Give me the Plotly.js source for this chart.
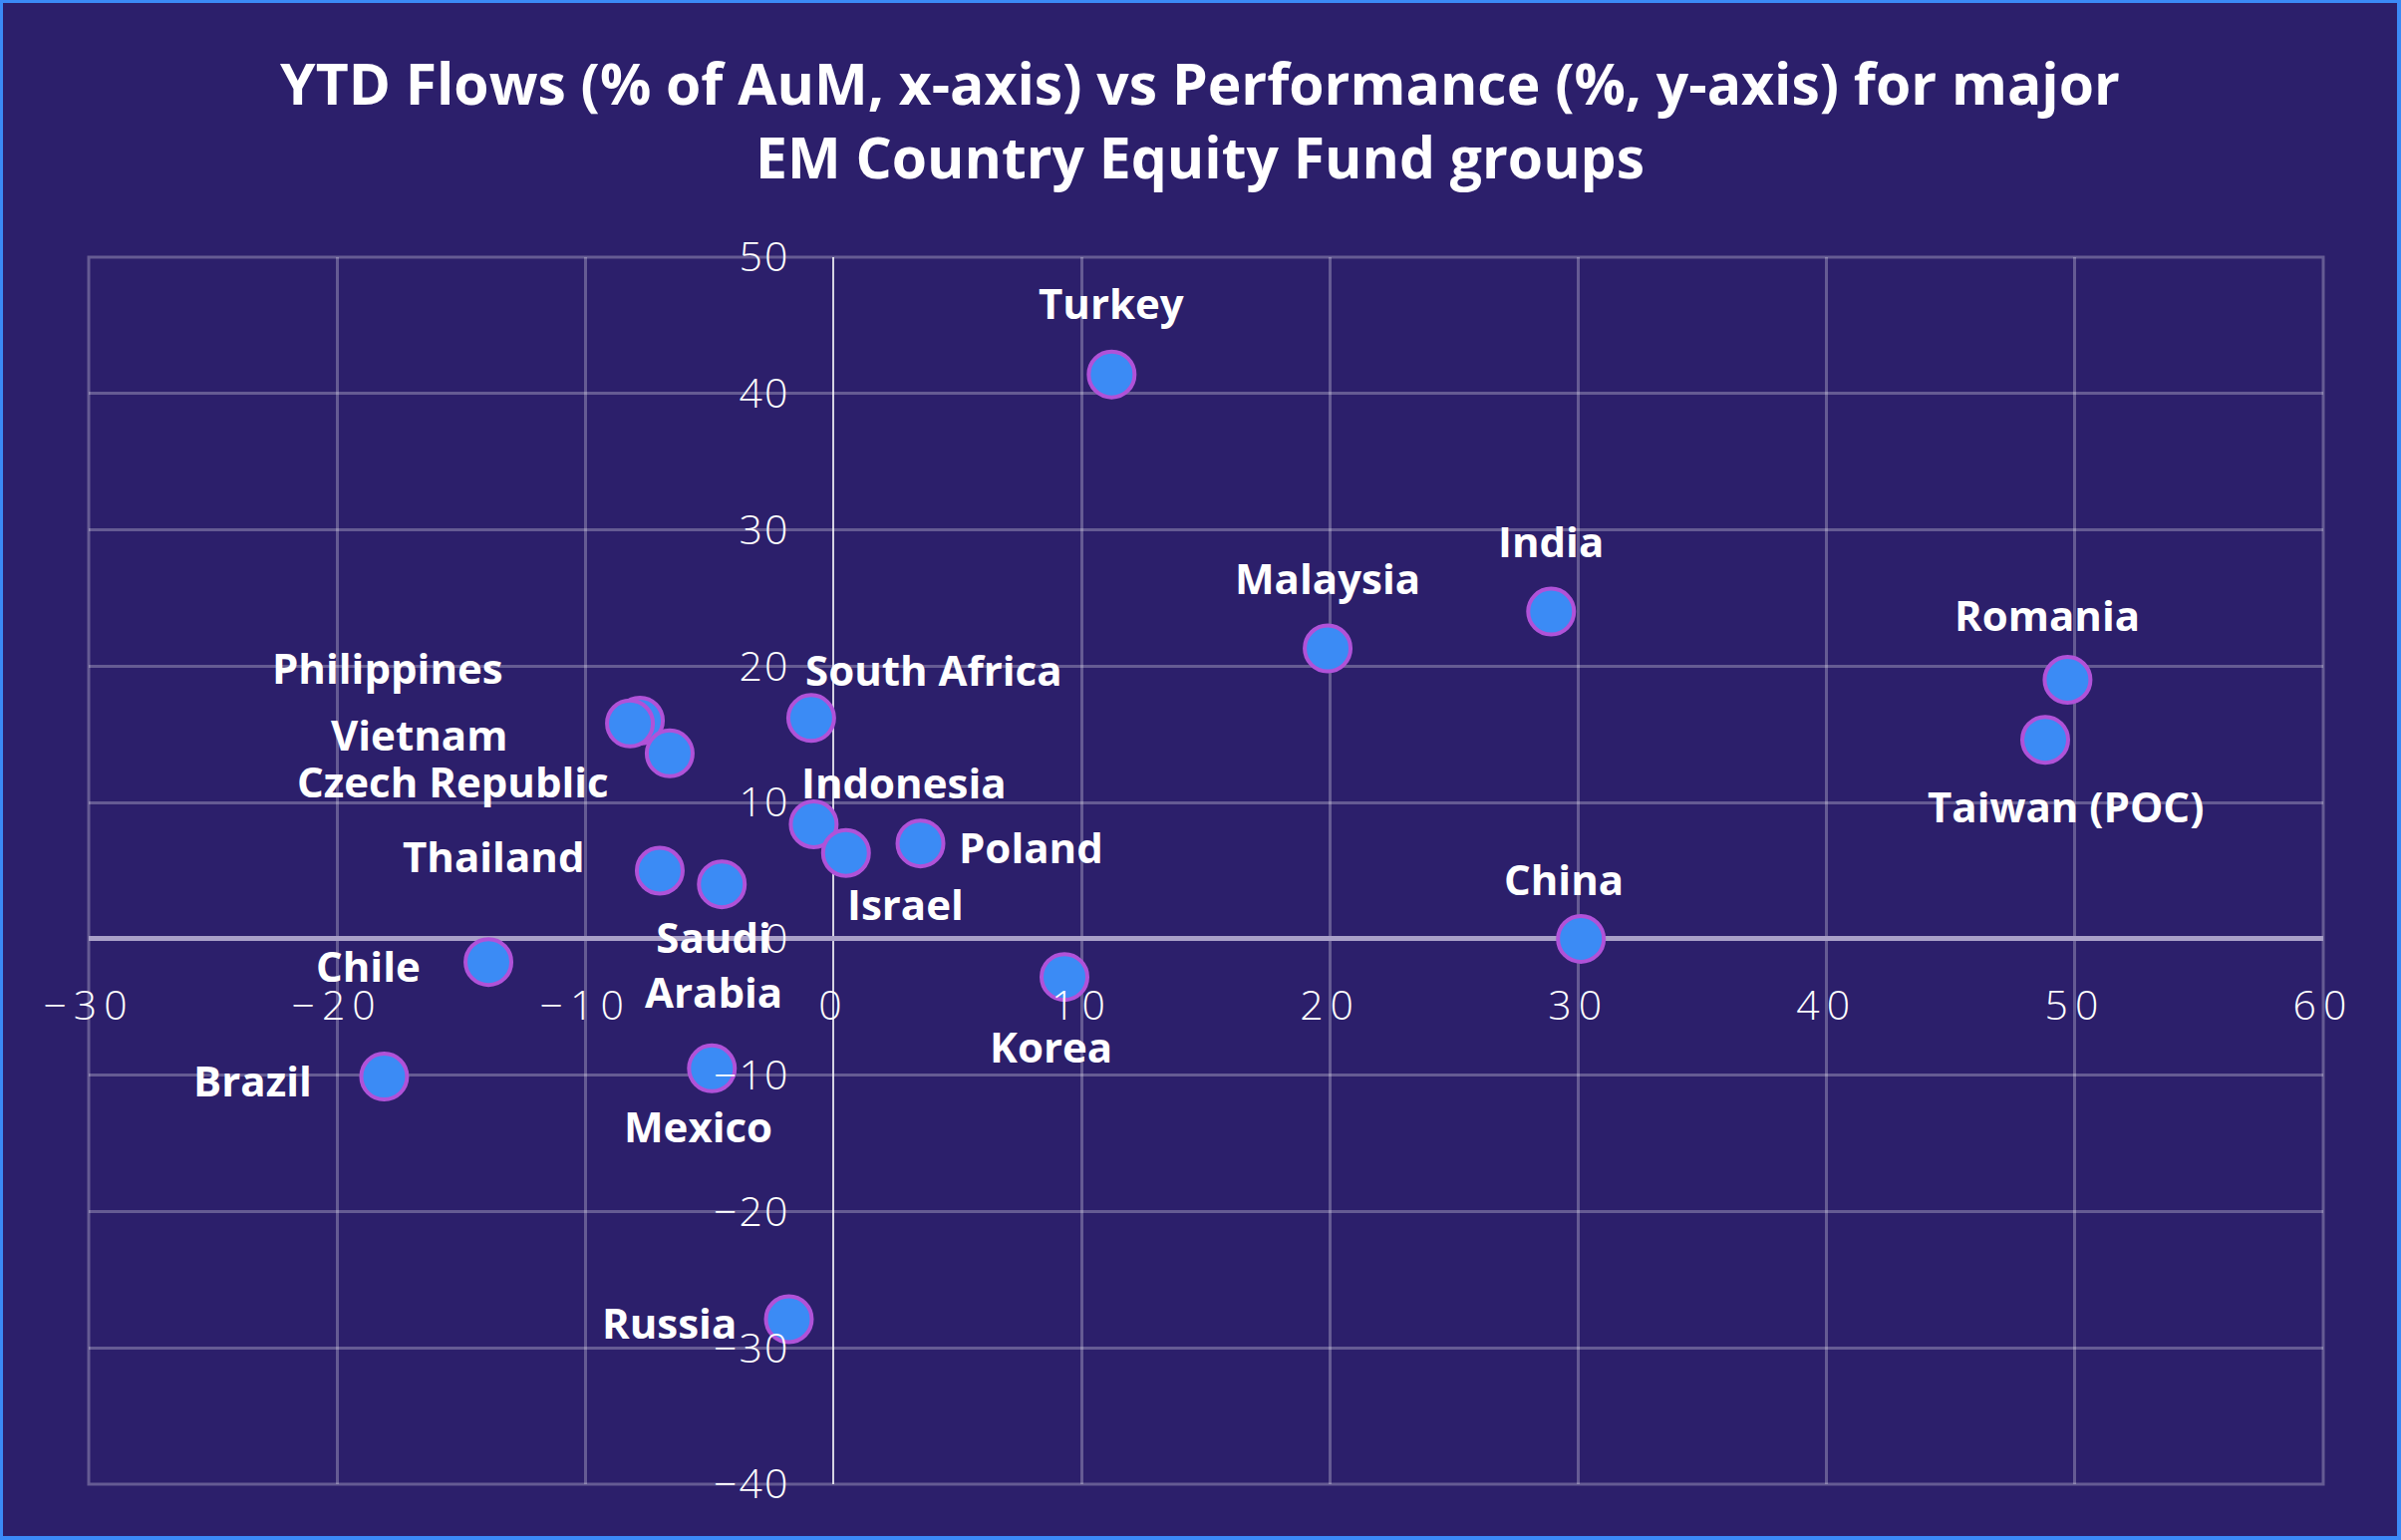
<!DOCTYPE html>
<html>
<head>
<meta charset="utf-8">
<script src="https://cdn.plot.ly/plotly-3.0.1.min.js"></script>
<style>
  html, body { margin: 0; padding: 0; background: #3b8af7; }
  #chart { position: absolute; left: 3px; top: 3px; width: 2402px; height: 1538px; }
  .xtick text { letter-spacing: 7px; }
  .ytick text { letter-spacing: 2px; }
</style>
</head>
<body>
<div id="chart"></div>
<script>
// Pays / groupes de fonds
const countries = [
    "Turkey", "Malaysia", "India", "Romania", "Taiwan (POC)", "China",
    "South Africa", "Philippines", "Vietnam", "Czech Republic", "Indonesia", "Israel",
    "Poland", "Thailand", "Saudi<br>Arabia", "Chile", "Korea", "Brazil", "Mexico", "Russia"
];

// Flux YTD (% des AuM) - axe x
const flows = [
    11.2, 19.9, 28.9, 49.7, 48.8, 30.1,
    -0.9, -7.8, -8.2, -6.6, -0.8, 0.5,
    3.5, -7.0, -4.5, -13.9, 9.3, -18.1, -4.9, -1.8
];

// Performance YTD (%) - axe y
const performance = [
    41.4, 21.3, 24.0, 19.0, 14.6, 0.0,
    16.2, 16.0, 15.8, 13.6, 8.4, 6.3,
    7.0, 5.0, 4.0, -1.7, -2.8, -10.1, -9.5, -27.9
];

// décalage des étiquettes en pixels (dx, dy vers le bas)
const labelOffsets = [
    [0, -72], [0, -71], [0, -71], [-20, -66], [20, 66], [-17, -60],
    [123, -49], [-253, -54], [-212, 11], [-217, 28], [91, -43], [60, 51],
    [111, 3], [-167, -15], [-8, 80], [-121, 3], [-14, 69], [-132, 3], [-14, 58], [-120, 3]
];

const trace = {
    x: flows,
    y: performance,
    mode: 'markers',
    type: 'scatter',
    hoverinfo: 'skip',
    marker: {
        size: 46,
        color: '#3b8bf5',
        line: { color: '#b052d8', width: 4 }
    }
};

const annotations = countries.map((name, i) => ({
    x: flows[i],
    y: performance[i],
    text: name,
    showarrow: false,
    xshift: labelOffsets[i][0],
    yshift: -labelOffsets[i][1],
    font: { family: 'Open Sans', size: 42, weight: 700, color: '#ffffff' }
}));

const tickFont = { family: 'Open Sans', size: 41, weight: 300, color: '#ffffff' };
const gridColor = 'rgba(255,255,255,0.27)';

const layout = {
    width: 2402,
    height: 1538,
    paper_bgcolor: '#2c1f6b',
    plot_bgcolor: '#2c1f6b',
    margin: { l: 86, r: 74, t: 255, b: 52 },
    showlegend: false,
    title: {
        text: 'YTD Flows (% of AuM, x-axis) vs Performance (%, y-axis) for major<br>EM Country Equity Fund groups',
        font: { family: 'Open Sans', size: 57, weight: 700, color: '#ffffff' },
        x: 0.5,
        xanchor: 'center',
        yref: 'container',
        y: 1 - 102 / 1538,
        yanchor: 'middle'
    },
    xaxis: {
        range: [-30, 60],
        dtick: 10,
        tick0: 0,
        showgrid: true,
        gridcolor: gridColor,
        gridwidth: 3,
        zeroline: true,
        zerolinecolor: 'rgba(255,255,255,0.8)',
        zerolinewidth: 2,
        showline: false,
        anchor: 'free',
        position: 4 / 9,
        ticks: '',
        ticklabelstandoff: 39,
        tickfont: tickFont,
        fixedrange: true
    },
    yaxis: {
        range: [-40, 50],
        dtick: 10,
        tick0: 0,
        showgrid: true,
        gridcolor: gridColor,
        gridwidth: 3,
        zeroline: true,
        zerolinecolor: '#a9a0c8',
        zerolinewidth: 5,
        showline: false,
        anchor: 'free',
        position: 3 / 9,
        ticks: '',
        ticklabelstandoff: 44,
        tickfont: tickFont,
        fixedrange: true
    },
    // cadre de la zone de tracé (lignes de grille aux bords)
    shapes: [{
        type: 'rect',
        xref: 'paper', yref: 'paper',
        x0: 0, x1: 1, y0: 0, y1: 1,
        line: { color: gridColor, width: 3 },
        layer: 'below'
    }],
    annotations: annotations
};

Plotly.newPlot('chart', [trace], layout, { displayModeBar: false, staticPlot: true });
</script>
</body>
</html>
